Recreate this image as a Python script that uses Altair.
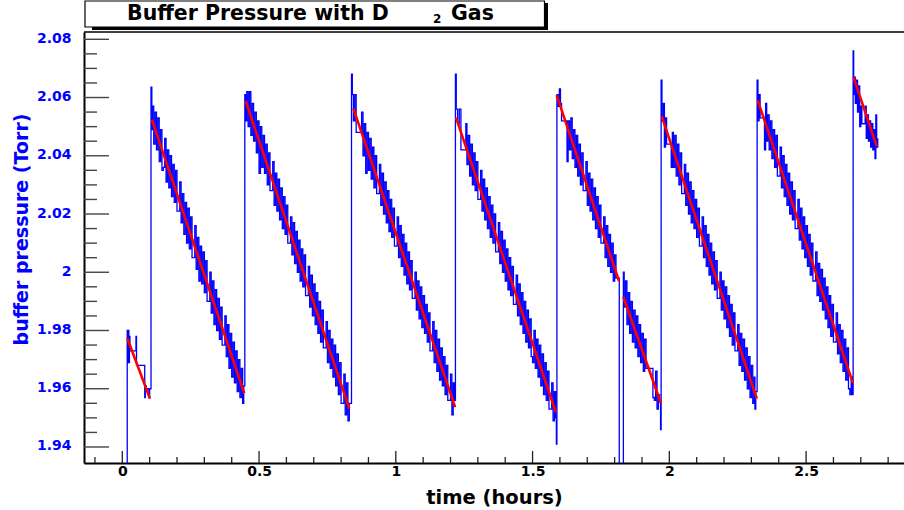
import altair as alt
import pandas as pd

# ---- blue trace, pieces between refills: (time [h], pressure [Torr]) ----
seg1 = [(0.018, 1.930), (0.018, 1.980), (0.020, 1.969), (0.022, 1.980), (0.024, 1.969), (0.026, 1.978),
        (0.028, 1.973), (0.050, 1.978), (0.052, 1.968), (0.082, 1.957), (0.084, 1.961), (0.088, 1.960),
        (0.097, 1.957), (0.100, 1.960)]
seg2 = [(0.105, 2.0636), (0.108, 2.049), (0.110, 2.057), (0.115, 2.044), (0.120, 2.055), (0.125, 2.042),
        (0.130, 2.053), (0.135, 2.038), (0.140, 2.049), (0.145, 2.035), (0.150, 2.036), (0.155, 2.046),
        (0.160, 2.031), (0.165, 2.042), (0.170, 2.029), (0.175, 2.040), (0.180, 2.026), (0.185, 2.037),
        (0.190, 2.024), (0.195, 2.035), (0.200, 2.021), (0.205, 2.021), (0.210, 2.031), (0.215, 2.017),
        (0.220, 2.027), (0.225, 2.013), (0.230, 2.024), (0.235, 2.010), (0.240, 2.022), (0.245, 2.008),
        (0.250, 2.019), (0.255, 2.005), (0.260, 2.005), (0.265, 2.016), (0.270, 2.001), (0.275, 2.012),
        (0.280, 1.997), (0.285, 2.009), (0.290, 1.996), (0.295, 2.007), (0.300, 1.993), (0.305, 2.004),
        (0.310, 1.990), (0.315, 1.990), (0.320, 2.000), (0.325, 1.986), (0.330, 1.997), (0.335, 1.982),
        (0.340, 1.994), (0.345, 1.980), (0.350, 1.991), (0.355, 1.977), (0.360, 1.988), (0.365, 1.975),
        (0.370, 1.975), (0.375, 1.985), (0.380, 1.971), (0.385, 1.982), (0.390, 1.967), (0.395, 1.979),
        (0.400, 1.964), (0.405, 1.976), (0.410, 1.962), (0.415, 1.973), (0.420, 1.959), (0.425, 1.970),
        (0.430, 1.957), (0.435, 1.967), (0.440, 1.955), (0.444, 1.961)]
seg3 = [(0.448, 2.061), (0.452, 2.052), (0.455, 2.062), (0.460, 2.050), (0.465, 2.062), (0.470, 2.047),
        (0.475, 2.058), (0.480, 2.045), (0.485, 2.055), (0.490, 2.041), (0.495, 2.052), (0.500, 2.034),
        (0.505, 2.050), (0.510, 2.036), (0.515, 2.047), (0.520, 2.034), (0.525, 2.044), (0.530, 2.030),
        (0.535, 2.041), (0.540, 2.028), (0.545, 2.028), (0.550, 2.038), (0.555, 2.023), (0.560, 2.034),
        (0.565, 2.021), (0.570, 2.032), (0.575, 2.018), (0.580, 2.029), (0.585, 2.015), (0.590, 2.026),
        (0.595, 2.013), (0.600, 2.023), (0.605, 2.010), (0.610, 2.010), (0.615, 2.019), (0.620, 2.006),
        (0.625, 2.017), (0.630, 2.003), (0.635, 2.014), (0.640, 2.000), (0.645, 2.011), (0.650, 1.997),
        (0.655, 2.008), (0.660, 1.995), (0.665, 2.006), (0.670, 1.992), (0.675, 1.992), (0.680, 2.002),
        (0.685, 1.988), (0.690, 1.999), (0.695, 1.985), (0.700, 1.996), (0.705, 1.982), (0.710, 1.993),
        (0.715, 1.979), (0.720, 1.990), (0.725, 1.976), (0.730, 1.987), (0.735, 1.974), (0.740, 1.974),
        (0.745, 1.983), (0.750, 1.969), (0.755, 1.980), (0.760, 1.967), (0.765, 1.977), (0.770, 1.964),
        (0.775, 1.975), (0.780, 1.961), (0.785, 1.972), (0.790, 1.958), (0.795, 1.969), (0.800, 1.955),
        (0.805, 1.955), (0.810, 1.965), (0.815, 1.951), (0.820, 1.962), (0.825, 1.949), (0.830, 1.955)]
seg4 = [(0.838, 2.068), (0.841, 2.061), (0.845, 2.052), (0.850, 2.061), (0.855, 2.048), (0.870, 2.048),
        (0.875, 2.055), (0.880, 2.040), (0.885, 2.051), (0.890, 2.034), (0.895, 2.048), (0.900, 2.035),
        (0.905, 2.046), (0.910, 2.032), (0.915, 2.043), (0.920, 2.029), (0.925, 2.040), (0.930, 2.027),
        (0.935, 2.027), (0.940, 2.037), (0.945, 2.023), (0.950, 2.034), (0.955, 2.020), (0.960, 2.031),
        (0.965, 2.017), (0.970, 2.028), (0.975, 2.014), (0.980, 2.025), (0.985, 2.012), (0.990, 2.022),
        (0.995, 2.009), (1.000, 2.009), (1.005, 2.019), (1.010, 2.005), (1.015, 2.016), (1.020, 2.002),
        (1.025, 2.013), (1.030, 1.999), (1.035, 2.010), (1.040, 1.996), (1.045, 2.007), (1.050, 1.994),
        (1.055, 2.004), (1.060, 1.991), (1.065, 1.991), (1.070, 2.000), (1.075, 1.987), (1.080, 1.997),
        (1.085, 1.984), (1.090, 1.995), (1.095, 1.981), (1.100, 1.992), (1.105, 1.979), (1.110, 1.989),
        (1.115, 1.976), (1.120, 1.986), (1.125, 1.973), (1.130, 1.973), (1.135, 1.983), (1.140, 1.969),
        (1.145, 1.980), (1.150, 1.966), (1.155, 1.977), (1.160, 1.963), (1.165, 1.974), (1.170, 1.961),
        (1.175, 1.971), (1.180, 1.958), (1.185, 1.968), (1.190, 1.956), (1.195, 1.956), (1.200, 1.965),
        (1.205, 1.951), (1.210, 1.962), (1.214, 1.956)]
seg5 = [(1.218, 2.068), (1.221, 2.056), (1.226, 2.051), (1.232, 2.056), (1.238, 2.042), (1.252, 2.042),
        (1.256, 2.051), (1.260, 2.037), (1.265, 2.047), (1.270, 2.033), (1.275, 2.044), (1.280, 2.030),
        (1.285, 2.041), (1.290, 2.028), (1.295, 2.038), (1.300, 2.025), (1.305, 2.025), (1.310, 2.035),
        (1.315, 2.021), (1.320, 2.032), (1.325, 2.018), (1.330, 2.029), (1.335, 2.015), (1.340, 2.026),
        (1.345, 2.012), (1.350, 2.023), (1.355, 2.010), (1.360, 2.020), (1.365, 2.007), (1.370, 2.007),
        (1.375, 2.017), (1.380, 2.003), (1.385, 2.014), (1.390, 2.000), (1.395, 2.011), (1.400, 1.997),
        (1.405, 2.008), (1.410, 1.994), (1.415, 2.005), (1.420, 1.992), (1.425, 2.002), (1.430, 1.989),
        (1.435, 1.989), (1.440, 1.999), (1.445, 1.985), (1.450, 1.996), (1.455, 1.982), (1.460, 1.993),
        (1.465, 1.979), (1.470, 1.990), (1.475, 1.976), (1.480, 1.987), (1.485, 1.974), (1.490, 1.984),
        (1.495, 1.971), (1.500, 1.969), (1.505, 1.980), (1.510, 1.967), (1.515, 1.977), (1.520, 1.964),
        (1.525, 1.975), (1.530, 1.961), (1.535, 1.972), (1.540, 1.958), (1.545, 1.969), (1.550, 1.956),
        (1.555, 1.966), (1.560, 1.953), (1.565, 1.953), (1.570, 1.962), (1.575, 1.949), (1.580, 1.959),
        (1.584, 1.950), (1.587, 1.941)]
seg6 = [(1.589, 2.061), (1.594, 2.057), (1.598, 2.063), (1.602, 2.058), (1.606, 2.052), (1.622, 2.052),
        (1.626, 2.038), (1.630, 2.052), (1.635, 2.042), (1.640, 2.053), (1.645, 2.039), (1.650, 2.049),
        (1.655, 2.036), (1.660, 2.047), (1.665, 2.033), (1.670, 2.044), (1.675, 2.030), (1.680, 2.041),
        (1.685, 2.028), (1.690, 2.028), (1.695, 2.038), (1.700, 2.023), (1.705, 2.034), (1.710, 2.021),
        (1.715, 2.032), (1.720, 2.018), (1.725, 2.029), (1.730, 2.015), (1.735, 2.026), (1.740, 2.012),
        (1.745, 2.023), (1.750, 2.010), (1.755, 2.010), (1.760, 2.019), (1.765, 2.005), (1.770, 2.016),
        (1.775, 2.002), (1.780, 2.013), (1.785, 2.000), (1.790, 2.010), (1.795, 1.997), (1.800, 2.006),
        (1.805, 1.998), (1.817, 1.930)]
seg7 = [(1.832, 2.000), (1.835, 1.988), (1.840, 1.997), (1.845, 1.982), (1.850, 1.993), (1.855, 1.979),
        (1.860, 1.990), (1.865, 1.976), (1.870, 1.987), (1.875, 1.974), (1.880, 1.985), (1.885, 1.971),
        (1.890, 1.982), (1.895, 1.969), (1.900, 1.979), (1.905, 1.966), (1.910, 1.977), (1.915, 1.967),
        (1.935, 1.967), (1.940, 1.957), (1.945, 1.956), (1.950, 1.966), (1.955, 1.953), (1.960, 1.958),
        (1.964, 1.956), (1.968, 1.946)]
seg8 = [(1.970, 2.066), (1.973, 2.052), (1.978, 2.058), (1.982, 2.043), (1.986, 2.053), (1.990, 2.044),
        (2.003, 2.044), (2.007, 2.036), (2.011, 2.048), (2.015, 2.036), (2.020, 2.047), (2.025, 2.033),
        (2.030, 2.044), (2.035, 2.030), (2.040, 2.041), (2.045, 2.027), (2.050, 2.027), (2.055, 2.037),
        (2.060, 2.023), (2.065, 2.034), (2.070, 2.020), (2.075, 2.031), (2.080, 2.017), (2.085, 2.028),
        (2.090, 2.015), (2.095, 2.025), (2.100, 2.012), (2.105, 2.022), (2.110, 2.009), (2.115, 2.009),
        (2.120, 2.019), (2.125, 2.005), (2.130, 2.016), (2.135, 2.002), (2.140, 2.013), (2.145, 1.999),
        (2.150, 2.010), (2.155, 1.996), (2.160, 2.007), (2.165, 1.994), (2.170, 2.004), (2.175, 1.991),
        (2.180, 1.991), (2.185, 2.000), (2.190, 1.987), (2.195, 1.997), (2.200, 1.984), (2.205, 1.995),
        (2.210, 1.981), (2.215, 1.992), (2.220, 1.978), (2.225, 1.989), (2.230, 1.975), (2.235, 1.986),
        (2.240, 1.973), (2.245, 1.973), (2.250, 1.982), (2.255, 1.968), (2.260, 1.979), (2.265, 1.966),
        (2.270, 1.977), (2.275, 1.963), (2.280, 1.974), (2.285, 1.960), (2.290, 1.971), (2.295, 1.957),
        (2.300, 1.968), (2.305, 1.955), (2.310, 1.964), (2.313, 1.953), (2.316, 1.959)]
seg9 = [(2.321, 2.066), (2.324, 2.052), (2.328, 2.061), (2.332, 2.053), (2.344, 2.053), (2.348, 2.042),
        (2.352, 2.058), (2.356, 2.045), (2.360, 2.054), (2.365, 2.042), (2.370, 2.052), (2.375, 2.039),
        (2.380, 2.049), (2.385, 2.036), (2.390, 2.047), (2.395, 2.033), (2.400, 2.033), (2.405, 2.043),
        (2.410, 2.029), (2.415, 2.040), (2.420, 2.026), (2.425, 2.037), (2.430, 2.023), (2.435, 2.034),
        (2.440, 2.020), (2.445, 2.031), (2.450, 2.018), (2.455, 2.028), (2.460, 2.015), (2.465, 2.015),
        (2.470, 2.025), (2.475, 2.011), (2.480, 2.022), (2.485, 2.008), (2.490, 2.019), (2.495, 2.005),
        (2.500, 2.016), (2.505, 2.002), (2.510, 2.013), (2.515, 1.999), (2.520, 2.010), (2.525, 1.997),
        (2.530, 1.997), (2.535, 2.007), (2.540, 1.992), (2.545, 2.003), (2.550, 1.990), (2.555, 2.001),
        (2.560, 1.987), (2.565, 1.998), (2.570, 1.984), (2.575, 1.995), (2.580, 1.981), (2.585, 1.992),
        (2.590, 1.978), (2.595, 1.989), (2.600, 1.976), (2.605, 1.976), (2.610, 1.986), (2.615, 1.972),
        (2.620, 1.982), (2.625, 1.969), (2.630, 1.980), (2.635, 1.966), (2.640, 1.977), (2.645, 1.963),
        (2.650, 1.974), (2.655, 1.960), (2.660, 1.958), (2.665, 1.964), (2.669, 1.958)]
seg10 = [(2.672, 2.076), (2.674, 2.061), (2.677, 2.067), (2.680, 2.058), (2.684, 2.066), (2.688, 2.055),
         (2.692, 2.064), (2.696, 2.050), (2.700, 2.057), (2.704, 2.051), (2.712, 2.051), (2.716, 2.057),
         (2.720, 2.046), (2.724, 2.054), (2.728, 2.045), (2.732, 2.052), (2.736, 2.043), (2.740, 2.051),
         (2.744, 2.042), (2.748, 2.049), (2.752, 2.039), (2.755, 2.054), (2.758, 2.043), (2.762, 2.046)]

# ---- red linear fits, one per fill ----
fit_t0 = [0.018, 0.108, 0.451, 0.845, 1.220, 1.588, 1.832, 1.972, 2.323, 2.673]
fit_t1 = [0.101, 0.446, 0.830, 1.217, 1.585, 1.816, 1.969, 2.320, 2.671, 2.758]
fit_p0 = [1.9774, 2.0524, 2.0588, 2.0562, 2.0531, 2.0608, 1.9915, 2.0536, 2.0591, 2.0671]
fit_p1 = [1.9566, 1.9585, 1.9532, 1.9537, 1.9520, 1.9970, 1.9551, 1.9566, 1.9620, 2.0433]

# ---- axis ticks ----
x_major = [0, 0.5, 1, 1.5, 2, 2.5]
x_minor = [-0.1, 0.1, 0.2, 0.3, 0.4, 0.6, 0.7, 0.8, 0.9, 1.1, 1.2, 1.3, 1.4, 1.6, 1.7, 1.8, 1.9,
           2.1, 2.2, 2.3, 2.4, 2.6, 2.7, 2.8]
y_major = [1.94, 1.96, 1.98, 2.0, 2.02, 2.04, 2.06, 2.08]
y_minor = [1.945, 1.95, 1.955, 1.965, 1.97, 1.975, 1.985, 1.99, 1.995, 2.005, 2.01, 2.015,
           2.025, 2.03, 2.035, 2.045, 2.05, 2.055, 2.065, 2.07, 2.075]

title_main = "Buffer Pressure with D"
title_sub = "2"
title_end = "Gas"
x_title = "time (hours)"
y_title = "buffer pressure (Torr)"

FONT = "DejaVu Sans"
W, H = 820, 431

rows = []
for seg in [seg1, seg2, seg3, seg4, seg5, seg6, seg7, seg8, seg9, seg10]:
    for t, p in seg:
        rows.append({"i": len(rows), "t": t, "p": p})
trace = pd.DataFrame(rows)
fits = pd.DataFrame({"t0": fit_t0, "t1": fit_t1, "p0": fit_p0, "p1": fit_p1})
one = pd.DataFrame({"k": [0]})

xs = alt.Scale(domain=[-0.14, 2.858], nice=False, zero=False)
ys = alt.Scale(domain=[1.9345, 2.0825], nice=False, zero=False)

ax_x = alt.Axis(values=x_major, ticks=False, tickSize=0, grid=False, domain=True,
                domainColor="#000000", domainWidth=2,
                labelExpr="format(datum.value, '')", labelFont=FONT, labelFontWeight="bold",
                labelFontSize=14, labelColor="#000000", labelPadding=1,
                titleFont=FONT, titleFontWeight="bold", titleFontSize=19.5, titleColor="#000000",
                titleX=410, titleY=40, titleBaseline="alphabetic", titleAlign="center")
ax_y = alt.Axis(values=y_major, ticks=False, tickSize=0, grid=False, domain=True,
                domainColor="#000000", domainWidth=2,
                labelExpr="format(datum.value, '')", labelFont=FONT, labelFontWeight="bold",
                labelFontSize=14, labelColor="#0000ff", labelPadding=13, labelOffset=-1,
                titleFont=FONT, titleFontWeight="bold", titleFontSize=19, titleColor="#0000ff",
                titleX=-57, titleY=197, titleAngle=270, titleBaseline="alphabetic",
                titleAlign="center")


def X(field):
    return alt.X(field, type="quantitative", scale=xs, axis=ax_x, title=x_title)


def Y(field):
    return alt.Y(field, type="quantitative", scale=ys, axis=ax_y, title=y_title)


blue = alt.Chart(trace).mark_line(color="#0000ff", strokeWidth=1.3, interpolate="step-after", clip=True).encode(
    x=X("t"), y=Y("p"), order=alt.Order("i:Q"),
)

red = alt.Chart(fits).mark_rule(color="#ff0000", strokeWidth=2.6).encode(
    x=X("t0"), x2="t1:Q", y=Y("p0"), y2="p1:Q",
)

ymaj = alt.Chart(pd.DataFrame({"v": y_major})).mark_rule(color="#444444", strokeWidth=1.4).encode(
    y=Y("v"), x=alt.value(0), x2=alt.value(25))
ymin = alt.Chart(pd.DataFrame({"v": y_minor})).mark_rule(color="#444444", strokeWidth=1.4).encode(
    y=Y("v"), x=alt.value(0), x2=alt.value(13))
xmaj = alt.Chart(pd.DataFrame({"v": x_major})).mark_rule(color="#222222", strokeWidth=1.3).encode(
    x=X("v"), y=alt.value(H), y2=alt.value(H - 12))
xmin = alt.Chart(pd.DataFrame({"v": x_minor})).mark_rule(color="#222222", strokeWidth=1.3).encode(
    x=X("v"), y=alt.value(H), y2=alt.value(H - 6))

top_line = alt.Chart(one).mark_rule(color="#000000", strokeWidth=1.6).encode(
    x=alt.value(0), x2=alt.value(W), y=alt.value(0))

shadow = alt.Chart(one).mark_rect(color="#000000").encode(
    x=alt.value(8), x2=alt.value(464), y=alt.value(-29), y2=alt.value(-2))
box = alt.Chart(one).mark_rect(fill="#ffffff", stroke="#000000", strokeWidth=1.2).encode(
    x=alt.value(1), x2=alt.value(460.5), y=alt.value(-31), y2=alt.value(-5))
t1 = alt.Chart(one).mark_text(font=FONT, fontWeight="bold", fontSize=20.5, align="left",
                               baseline="alphabetic", color="#000000").encode(
    x=alt.value(43), y=alt.value(-12.5), text=alt.value(title_main))
t2 = alt.Chart(one).mark_text(font=FONT, fontWeight="bold", fontSize=12, align="left",
                               baseline="alphabetic", color="#000000").encode(
    x=alt.value(349), y=alt.value(-9.5), text=alt.value(title_sub))
t3 = alt.Chart(one).mark_text(font=FONT, fontWeight="bold", fontSize=20.5, align="left",
                               baseline="alphabetic", color="#000000").encode(
    x=alt.value(367), y=alt.value(-12.5), text=alt.value(title_end))

chart = alt.layer(ymin, ymaj, xmin, xmaj, blue, red, top_line, shadow, box, t1, t2, t3).properties(
    width=W, height=H,
    padding={"left": 84, "top": 32, "right": 0, "bottom": 47},
    autosize=alt.AutoSizeParams(type="none"),
    background="#ffffff",
).configure_view(strokeWidth=0)

chart.save("out.html", embed_options={"renderer": "svg", "actions": False})
